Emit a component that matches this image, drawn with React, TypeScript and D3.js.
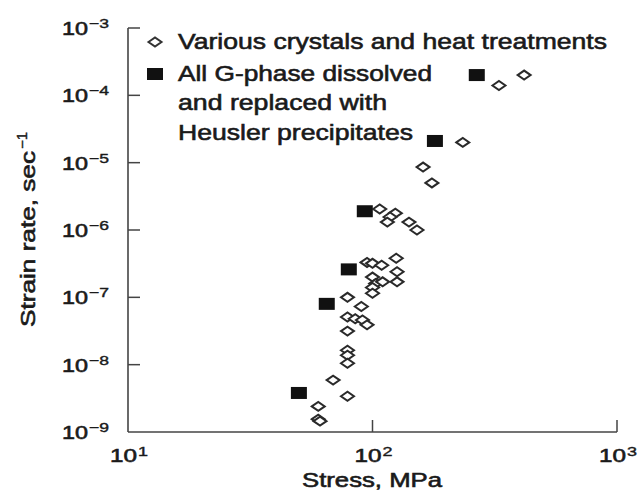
import React from "react";
import * as d3 from "d3";

// Various crystals and heat treatments (open diamonds)
const variousStress = [417, 329, 234, 161, 175, 107, 124, 118, 115, 141, 152, 95, 100, 109, 125, 126, 126, 100, 103, 100, 100, 110, 79, 90, 79, 85, 91, 95, 79, 79, 79, 79, 69, 79, 60, 60, 61];
const variousRate = [2.0e-4, 1.4e-4, 2.0e-5, 8.6e-6, 5.0e-6, 2.05e-6, 1.78e-6, 1.56e-6, 1.31e-6, 1.31e-6, 1.0e-6, 3.3e-7, 3.2e-7, 3.0e-7, 3.8e-7, 2.4e-7, 1.7e-7, 2.0e-7, 1.6e-7, 1.4e-7, 1.15e-7, 1.7e-7, 1.0e-7, 7.3e-8, 5.1e-8, 4.8e-8, 4.6e-8, 3.9e-8, 3.15e-8, 1.64e-8, 1.38e-8, 1.05e-8, 5.9e-9, 3.4e-9, 2.4e-9, 1.55e-9, 1.45e-9];

// All G-phase dissolved and replaced with Heusler precipitates (filled squares)
const heuslerStress = [267, 180, 93, 80, 65, 50];
const heuslerRate = [2.0e-4, 2.1e-5, 1.9e-6, 2.6e-7, 8.0e-8, 3.8e-9];

const xTicks = [10, 100, 1000];
const xTickExp = ["1", "2", "3"];
const yTicks = [1e-3, 1e-4, 1e-5, 1e-6, 1e-7, 1e-8, 1e-9];
const yTickExp = ["\u22123", "\u22124", "\u22125", "\u22126", "\u22127", "\u22128", "\u22129"];

const legendLines = [
  "Various crystals and heat treatments",
  "All G-phase dissolved",
  "and replaced with",
  "Heusler precipitates",
];
const legendWidths = [429, 254, 209, 235];

const W = 641;
const H = 497;
const FONT = "'Liberation Sans', Arial, Helvetica, sans-serif";
const INK = "#1a1a1a";

export default function App() {
  const x = d3.scaleLog().domain([10, 1000]).range([128, 617]);
  const y = d3.scaleLog().domain([1e-9, 1e-3]).range([432, 28]);

  const diamond = (cx: number, cy: number) => {
    const w = 6.5, h = 4.5;
    return `M${cx - w},${cy}L${cx},${cy - h}L${cx + w},${cy}L${cx},${cy + h}Z`;
  };

  const legendBase = [49, 81, 110, 140];
  const ts = { fill: INK, stroke: INK, strokeWidth: 0.6 };

  return (
    <svg width={W} height={H} style={{ position: "absolute", left: 0, top: 0, background: "#fff" }} fontFamily={FONT}>
      <rect x={0} y={0} width={W} height={H} fill="#fff" />
      {/* axes */}
      <line x1={x(10)} y1={y(1e-3)} x2={x(10)} y2={y(1e-9)} stroke="#444" strokeWidth={1.6} />
      <line x1={x(10)} y1={y(1e-9)} x2={x(1000)} y2={y(1e-9)} stroke="#444" strokeWidth={1.6} />
      {yTicks.slice(0, 6).map((t, i) => (
        <line key={"yt" + i} x1={x(10)} x2={x(10) + 12} y1={y(t)} y2={y(t)} stroke="#444" strokeWidth={1.5} />
      ))}
      {xTicks.slice(1).map((t, i) => (
        <line key={"xt" + i} x1={x(t)} x2={x(t)} y1={y(1e-9)} y2={y(1e-9) - 12} stroke="#444" strokeWidth={1.5} />
      ))}
      {/* y tick labels */}
      {yTicks.map((t, i) => (
        <g key={"yl" + i}>
          <text x={88} y={y(t) + 7} textAnchor="end" fontSize={18} {...ts} textLength={26} lengthAdjust="spacingAndGlyphs">10</text>
          <text x={89} y={y(t)} fontSize={13} {...ts} strokeWidth={0.4} textLength={20} lengthAdjust="spacingAndGlyphs">{yTickExp[i]}</text>
        </g>
      ))}
      {/* x tick labels */}
      {xTicks.map((t, i) => (
        <g key={"xl" + i}>
          <text x={x(t) - 18} y={462} fontSize={18} {...ts} textLength={27} lengthAdjust="spacingAndGlyphs">10</text>
          <text x={x(t) + 10} y={456} fontSize={13} {...ts} strokeWidth={0.4} textLength={10} lengthAdjust="spacingAndGlyphs">{xTickExp[i]}</text>
        </g>
      ))}
      {/* axis titles */}
      <text x={302} y={487} fontSize={20} {...ts} textLength={140} lengthAdjust="spacingAndGlyphs">Stress, MPa</text>
      <g transform="translate(35,327) rotate(-90)">
        <text x={0} y={0} fontSize={20} {...ts} textLength={176} lengthAdjust="spacingAndGlyphs">Strain rate, sec</text>
        <text x={178} y={-8} fontSize={14} {...ts} strokeWidth={0.4} textLength={17} lengthAdjust="spacingAndGlyphs">{"\u22121"}</text>
      </g>
      {/* legend */}
      <path d={diamond(155, 42)} fill="#fff" stroke="#333" strokeWidth={2} />
      <rect x={147} y={68} width={16} height={12} fill="#111" />
      {legendLines.map((l, i) => (
        <text key={"lg" + i} x={178} y={legendBase[i]} fontSize={22} {...ts} textLength={legendWidths[i]} lengthAdjust="spacingAndGlyphs">{l}</text>
      ))}
      {/* data */}
      {variousStress.map((s, i) => (
        <path key={"d" + i} d={diamond(x(s), y(variousRate[i]))} fill="#fff" stroke="#2a2a2a" strokeWidth={2} />
      ))}
      {heuslerStress.map((s, i) => (
        <rect key={"s" + i} x={x(s) - 8} y={y(heuslerRate[i]) - 6} width={16} height={12} fill="#111" />
      ))}
    </svg>
  );
}
